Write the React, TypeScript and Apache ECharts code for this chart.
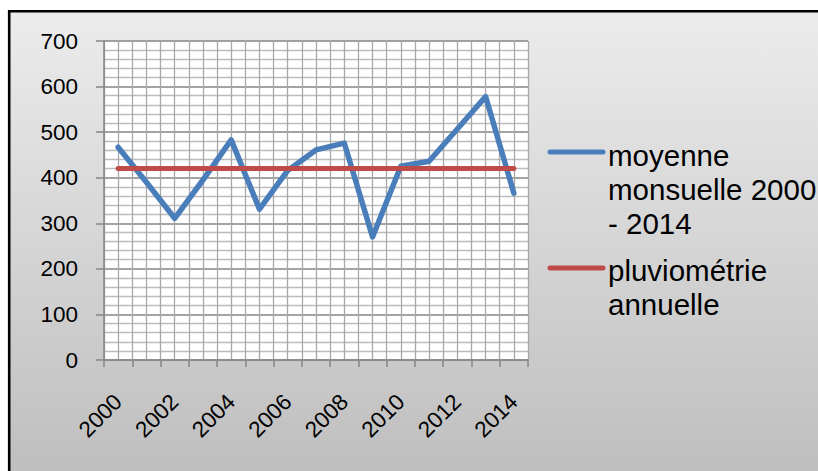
import React, { useEffect, useRef } from "react";
import * as echarts from "echarts";

// Years on the horizontal axis
const years = [
  "2000", "2001", "2002", "2003", "2004", "2005", "2006", "2007",
  "2008", "2009", "2010", "2011", "2012", "2013", "2014",
];

// Monthly mean rainfall per year (mm)
const monthlyMean = [467, 390, 311, 395, 483, 331, 416, 461, 476, 270, 425, 436, 507, 578, 366];

// Annual rainfall reference level (mm)
const annualRain = [420, 420, 420, 420, 420, 420, 420, 420, 420, 420, 420, 420, 420, 420, 420];

const seriesNames = ["moyenne\nmonsuelle 2000\n- 2014", "pluviométrie\nannuelle"];
const seriesColors = ["#4A7EBB", "#BE4B48"];

const AXIS_FONT = "'Liberation Sans', Arial, sans-serif";

export default function App() {
  const ref = useRef<HTMLDivElement>(null);

  useEffect(() => {
    if (!ref.current) return;
    const chart = echarts.init(ref.current, undefined, { renderer: "svg" });

    chart.setOption({
      animation: false,
      graphic: [
        {
          type: "rect",
          z: -10,
          shape: { x: 9.2, y: 11.2, width: 900, height: 466 },
          style: {
            fill: new echarts.graphic.LinearGradient(0, 0, 0, 1, [
              { offset: 0, color: "#ececec" },
              { offset: 1, color: "#bebebe" },
            ]),
            stroke: "#000",
            lineWidth: 2.6,
          },
        },
        // legend: blue entry
        {
          type: "line",
          shape: { x1: 550, y1: 152, x2: 603, y2: 152 },
          style: { stroke: seriesColors[0], lineWidth: 5, lineCap: "round" },
        },
        {
          type: "text",
          x: 608,
          y: 138,
          style: {
            text: seriesNames[0],
            font: `29.5px ${AXIS_FONT}`,
            lineHeight: 34,
            fill: "#000",
            verticalAlign: "top",
          },
        },
        // legend: red entry
        {
          type: "line",
          shape: { x1: 550, y1: 268, x2: 603, y2: 268 },
          style: { stroke: seriesColors[1], lineWidth: 5, lineCap: "round" },
        },
        {
          type: "text",
          x: 608,
          y: 253,
          style: {
            text: seriesNames[1],
            font: `29.5px ${AXIS_FONT}`,
            lineHeight: 34,
            fill: "#000",
            verticalAlign: "top",
          },
        },
      ],
      grid: {
        left: 104,
        top: 41,
        right: 290,
        bottom: 111,
        show: true,
        backgroundColor: "#ffffff",
        borderWidth: 0,
        containLabel: false,
      },
      xAxis: [
        {
          type: "category",
          data: years,
          boundaryGap: true,
          axisLine: { show: true, lineStyle: { color: "#868686", width: 1.5 } },
          axisTick: { show: true, interval: 0, length: 7, lineStyle: { color: "#868686", width: 1.5 } },
          splitLine: { show: false },
          axisLabel: {
            interval: 1,
            rotate: 45,
            margin: 38,
            fontSize: 22.5,
            fontFamily: AXIS_FONT,
            color: "#000",
          },
        },
        {
          // half-category vertical grid
          type: "value",
          min: 0,
          max: 30,
          interval: 1,
          show: true,
          position: "bottom",
          axisLine: { show: false },
          axisTick: { show: false },
          axisLabel: { show: false },
          splitLine: { show: true, lineStyle: { color: "#a8a8a8", width: 1.3 } },
        },
      ],
      yAxis: {
        type: "value",
        min: 0,
        max: 700,
        interval: 100,
        axisLine: { show: true, lineStyle: { color: "#868686", width: 1.5 } },
        axisTick: { show: true, length: 8, lineStyle: { color: "#868686", width: 1.5 } },
        axisLabel: {
          margin: 26,
          fontSize: 22.5,
          fontFamily: AXIS_FONT,
          color: "#000",
        },
        splitLine: { show: true, lineStyle: { color: "#858585", width: 1.5 } },
        minorTick: { show: false, splitNumber: 5 },
        minorSplitLine: { show: true, lineStyle: { color: "#bcbcbc", width: 1.3 } },
      },
      series: [
        {
          name: seriesNames[0],
          type: "line",
          data: monthlyMean,
          xAxisIndex: 0,
          symbol: "none",
          lineStyle: { color: seriesColors[0], width: 5.5, cap: "round", join: "round" },
          z: 3,
        },
        {
          name: seriesNames[1],
          type: "line",
          data: annualRain,
          xAxisIndex: 0,
          symbol: "none",
          lineStyle: { color: seriesColors[1], width: 5, cap: "round", join: "round" },
          z: 4,
        },
      ],
    });

    return () => chart.dispose();
  }, []);

  return (
    <div
      ref={ref}
      style={{ position: "fixed", left: 0, top: 0, width: 818, height: 471, background: "#fff" }}
    />
  );
}
